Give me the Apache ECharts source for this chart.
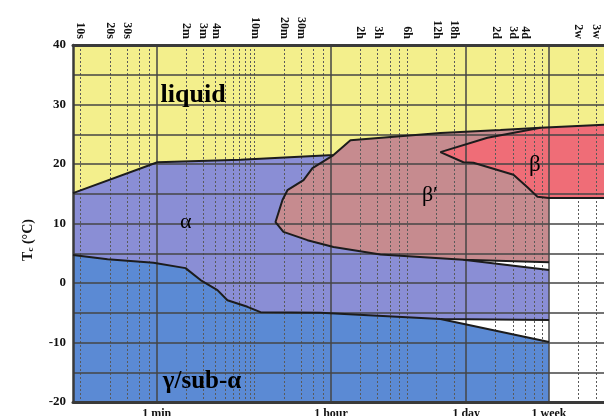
<!DOCTYPE html>
<html><head><meta charset="utf-8">
<script src="https://cdn.jsdelivr.net/npm/echarts@6/dist/echarts.min.js"></script>
<style>html,body{margin:0;padding:0;background:#fff}#c{width:604px;height:416px}</style>
</head><body><div id="c"></div>
<script>
// ---- data (time in seconds, temperature in °C) ----
const topTickValues = [10,20,30,120,180,240,600,1200,1800,7200,10800,21600,43200,64800,172800,259200,345600,1209600,1814400];
const topTickLabels = ['10s','20s','30s','2m','3m','4m','10m','20m','30m','2h','3h','6h','12h','18h','2d','3d','4d','2w','3w'];
const bottomTickValues = [60,3600,86400,604800];
const bottomTickLabels = ['1 min','1 hour','1 day','1 week'];
const minorGridTimes = [10,20,30,40,50,120,180,240,300,360,420,480,540,600,1200,1800,2400,3000,7200,10800,14400,18000,21600,43200,64800,172800,259200,345600,432000,518400,1209600,1814400];
const yTickLabels = [-20,-10,0,10,20,30,40];

// phase boundaries
const topLine = [[8.39,15.1],[61,20.3],[430,20.7],[3820,21.5],[5690,24.0],[47100,25.2],[193000,25.7],[494000,26.1],[2.2e6,26.6]];
const betaPrimeEdge = [[3820,21.5],[2330,19.3],[1888,17.3],[1294,15.6],[1152,13.95],[978,10.25],[1178,8.6],[2072,7.2],[3820,6.05],[11510,4.8],[80850,3.9],[604800,3.5]];
const betaEdge = [[494000,26.1],[142300,24.4],[47100,22.0],[80850,20.3],[102300,20.2],[262000,18.2],[364000,16.1],[460300,14.5],[604800,14.3],[2.2e6,14.3]];
const alphaTopWedge = [[80850,3.9],[604800,2.2]];
const alphaBottom = [[8.39,4.7],[18.9,4.0],[55.6,3.4],[118,2.5],[168,0.5],[250,-1.2],[316,-2.9],[506,-4.0],[687,-4.9],[2810,-5.0],[47100,-6.05],[604800,-6.2]];
const gammaTopWedge = [[47100,-6.05],[604800,-9.9]];

const phaseNames = ['liquid','α','β′','β','γ/sub-α'];
const phaseLabelTimes = [141,119,36800,434000,174];
const phaseLabelTemps = [31.6,10.25,14.8,19.8,-16.5];

// ---- axis range ----
const T_MIN = 8.39, T_MAX = 2.2e6, Y_MIN = -20, Y_MAX = 40;

// ---- polygons built from boundaries ----
const rev = a => a.slice().reverse();
const liquidPoly = topLine.concat([[T_MAX,Y_MAX],[T_MIN,Y_MAX]]);
const betaPrimePoly = topLine.slice(3,8).concat(betaEdge.slice(1,9), rev(betaPrimeEdge));
const betaPoly = betaEdge.concat([topLine[topLine.length-1]]);
const alphaPoly = topLine.slice(0,4).concat(betaPrimeEdge.slice(1,11), [alphaTopWedge[1]], rev(alphaBottom));
const gammaPoly = alphaBottom.slice(0,11).concat([gammaTopWedge[1],[gammaTopWedge[1][0],Y_MIN],[T_MIN,Y_MIN]]);

const SERIF = '"Liberation Serif","DejaVu Serif",serif';
function labelFor(v, vals, labs){
  for (let i=0;i<vals.length;i++){ if (Math.abs(Math.log10(v)-Math.log10(vals[i]))<1e-4) return labs[i]; }
  return '';
}
function poly(name, pts, color){
  return {type:'custom', name, coordinateSystem:'cartesian2d', xAxisIndex:0, yAxisIndex:0,
    data:[[1000,0]], z:1, silent:true, clip:true,
    renderItem:function(params, api){
      return {type:'polygon', shape:{points: pts.map(p=>api.coord(p))}, style:{fill:color, stroke:null}};
    }};
}
function edge(pts){
  return {type:'line', data:pts, xAxisIndex:0, yAxisIndex:0, symbol:'none', z:10, silent:true,
    lineStyle:{color:'#1c1c1c', width:2}};
}
const labelStyles = [
  {fontSize:26, fontWeight:'bold'},
  {fontSize:22, fontWeight:'normal'},
  {fontSize:22, fontWeight:'normal'},
  {fontSize:23, fontWeight:'normal'},
  {fontSize:25, fontWeight:'bold'}
];

const baseX = {type:'log', logBase:10, min:T_MIN, max:T_MAX, gridIndex:0};
const chart = echarts.init(document.getElementById('c'), null, {renderer:'canvas'});
chart.setOption({
  animation:false,
  backgroundColor:'#fff',
  grid:{left:73, right:0, top:45, bottom:14, containLabel:false, outerBoundsMode:'none'},
  xAxis:[
    Object.assign({}, baseX, {position:'bottom', z:5,
      axisLine:{show:true, onZero:false, lineStyle:{color:'#3a3a3a', width:3}},
      axisTick:{show:false, customValues:bottomTickValues},
      axisLabel:{show:true, customValues:bottomTickValues, formatter:v=>labelFor(v,bottomTickValues,bottomTickLabels),
        margin:6, fontFamily:SERIF, fontWeight:'bold', fontSize:12, color:'#111'},
      splitLine:{show:true, lineStyle:{color:'#444', width:1.5}}}),
    Object.assign({}, baseX, {position:'bottom', z:4,
      axisLine:{show:false}, axisTick:{show:false, customValues:minorGridTimes}, axisLabel:{show:false},
      splitLine:{show:true, lineStyle:{color:'#5a5a5a', width:1, type:[2,2]}}}),
    Object.assign({}, baseX, {position:'top', z:5,
      axisLine:{show:true, onZero:false, lineStyle:{color:'#3a3a3a', width:3}},
      axisTick:{show:false, customValues:topTickValues},
      axisLabel:{show:true, customValues:topTickValues, formatter:v=>labelFor(v,topTickValues,topTickLabels),
        rotate:90, margin:6, fontFamily:SERIF, fontWeight:'bold', fontSize:12, color:'#111'},
      splitLine:{show:false}})
  ],
  yAxis:{type:'value', min:Y_MIN, max:Y_MAX, interval:5, z:5,
    axisLine:{show:true, lineStyle:{color:'#3a3a3a', width:2.5}}, axisTick:{show:false},
    axisLabel:{formatter:v=>yTickLabels.indexOf(v)>=0?String(v):'', margin:7, fontFamily:SERIF, fontWeight:'bold', fontSize:13, color:'#111'},
    splitLine:{show:true, lineStyle:{color:'#444', width:1.5}}},
  graphic:[{type:'text', x:28, y:240, rotation:Math.PI/2, z:20,
    style:{text:'{m|T}{s|c}{m| (°C)}', align:'center', verticalAlign:'middle',
      rich:{m:{fontFamily:SERIF, fontWeight:'bold', fontSize:14, fill:'#111', color:'#111'},
            s:{fontFamily:SERIF, fontWeight:'bold', fontSize:9, fill:'#111', color:'#111', verticalAlign:'bottom', padding:[6,0,0,0]}}}}],
  series:[
    poly('liquid', liquidPoly, '#f3ef8c'),
    poly('alpha', alphaPoly, '#8a8ed5'),
    poly('gamma', gammaPoly, '#5b8ad4'),
    poly('betaPrime', betaPrimePoly, '#c68b8f'),
    poly('beta', betaPoly, '#ef6d77'),
    edge(topLine), edge(betaPrimeEdge), edge(betaEdge), edge(alphaTopWedge), edge(alphaBottom), edge(gammaTopWedge),
    {type:'scatter', xAxisIndex:0, yAxisIndex:0, symbolSize:0, z:12, silent:true,
      itemStyle:{opacity:1},
      data: phaseNames.map((n,i)=>({name:n, value:[phaseLabelTimes[i], phaseLabelTemps[i]],
        label:Object.assign({color:'#000', opacity:1}, labelStyles[i])})),
      label:{show:true, position:'inside', formatter:p=>p.name, fontFamily:SERIF, color:'#000', opacity:1}}
  ]
});
</script>
</body></html>
